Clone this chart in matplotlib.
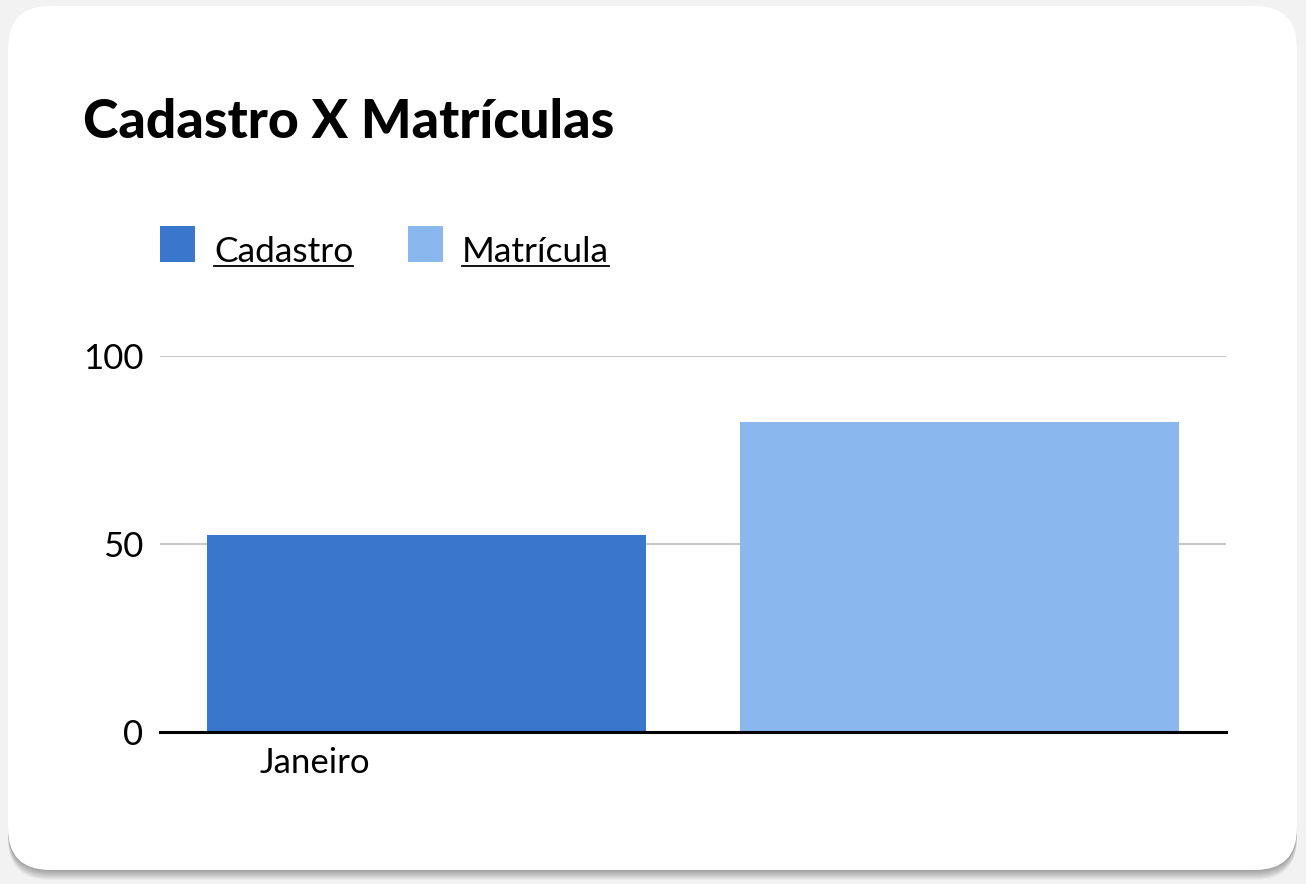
import matplotlib
matplotlib.use("Agg")
import matplotlib.pyplot as plt
from matplotlib.patches import FancyBboxPatch, Rectangle
from matplotlib.lines import Line2D

title = "Cadastro X Matrículas"
series_names = ["Cadastro", "Matrícula"]
series_colors = ["#3a76cc", "#8ab8ee"]
months = ["Janeiro"]
cadastro = [52.5]
matricula = [82.5]
yticks = [0, 50, 100]

plt.rcParams["font.family"] = ["Lato", "DejaVu Sans"]

W, H = 1306, 884
fig = plt.figure(figsize=(W / 100, H / 100), dpi=100)
fig.patch.set_facecolor("#f2f2f2")

# background layer in pixel coordinates (card, shadow, title, legend)
bg = fig.add_axes([0, 0, 1, 1])
bg.set_xlim(0, W)
bg.set_ylim(H, 0)
bg.axis("off")

for dy in range(1, 11):
    bg.add_patch(FancyBboxPatch((8, 6 + dy), 1289, 864,
                                boxstyle="round,pad=0,rounding_size=42",
                                facecolor="#000000", edgecolor="none",
                                alpha=0.035))
bg.add_patch(FancyBboxPatch((8, 6), 1289, 864,
                            boxstyle="round,pad=0,rounding_size=42",
                            facecolor="white", edgecolor="none"))

bg.text(83, 138, title, fontsize=38.5, fontweight="black", color="black",
        va="baseline", ha="left")

legend_texts = []
lx = [160, 408]
for name, color, x in zip(series_names, series_colors, lx):
    bg.add_patch(Rectangle((x, 226), 35, 36, facecolor=color, edgecolor="none"))
    t = bg.text(x + 54, 262, name, fontsize=25.5, color="black",
                va="baseline", ha="left")
    legend_texts.append(t)

# chart
ax = fig.add_axes([160 / W, 1 - 732 / H, 1066 / W, 376 / H])
ax.set_facecolor("none")
x = list(range(len(months)))
ax.bar([i - 0.5 for i in x], cadastro, width=0.824, color=series_colors[0],
       zorder=2)
ax.bar([i + 0.5 for i in x], matricula, width=0.824, color=series_colors[1],
       zorder=2)
ax.set_xlim(-1, len(months))
ax.set_ylim(0, 100)
ax.set_yticks(yticks)
ax.set_yticklabels([str(v) for v in yticks], fontsize=25)
ax.set_xticks([i - 0.71 for i in x])
ax.set_xticklabels(months, fontsize=25)
ax.tick_params(axis="both", length=0)
ax.tick_params(axis="y", pad=12)
ax.tick_params(axis="x", pad=11)
ax.yaxis.grid(True, color="#c8c8c8", linewidth=1.5, zorder=1)
ax.set_axisbelow(True)
for s in ax.spines.values():
    s.set_visible(False)
ax.axhline(0, color="black", linewidth=2.2, zorder=3, clip_on=False)

# underline legend labels
fig.canvas.draw()
renderer = fig.canvas.get_renderer()
for t in legend_texts:
    bb = t.get_window_extent(renderer)
    bg.add_line(Line2D([bb.x0, bb.x1], [265.5, 265.5], color="black",
                       linewidth=1.3))

fig.savefig("out.png", dpi=100, facecolor=fig.get_facecolor())
